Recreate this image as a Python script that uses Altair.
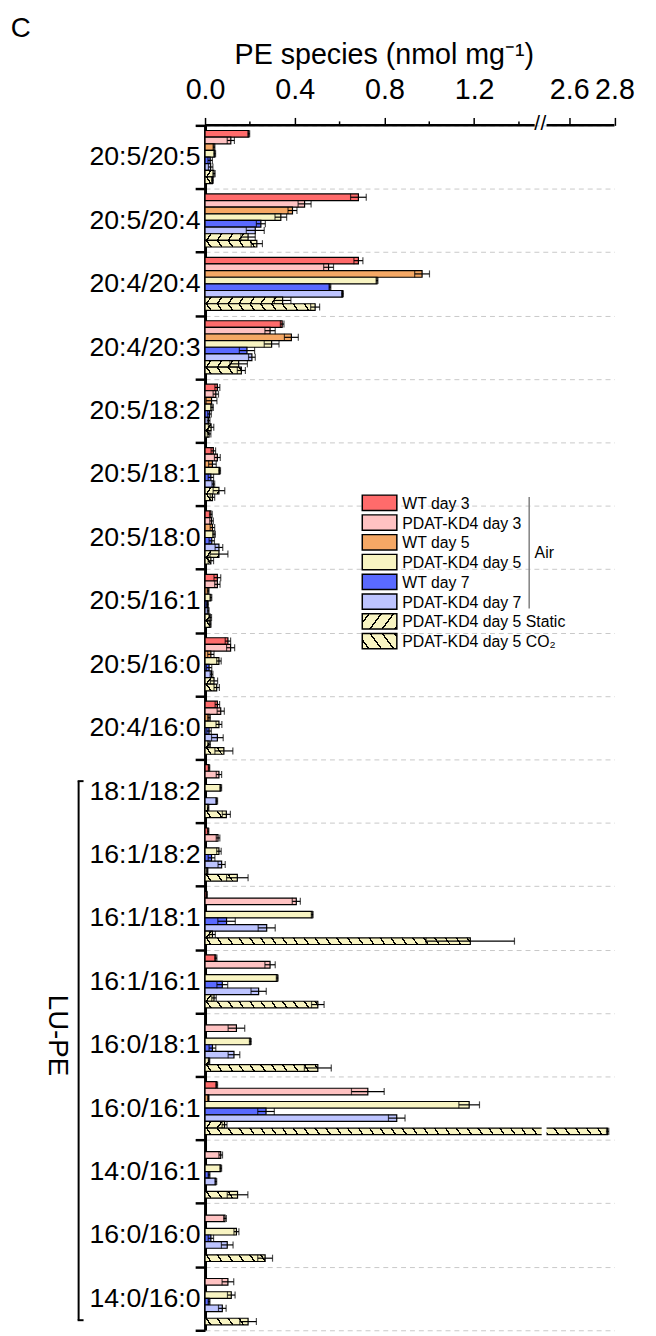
import altair as alt

# ---------------- data ----------------
cats = ["20:5/20:5", "20:5/20:4", "20:4/20:4", "20:4/20:3", "20:5/18:2", "20:5/18:1",
        "20:5/18:0", "20:5/16:1", "20:5/16:0", "20:4/16:0", "18:1/18:2", "16:1/18:2",
        "16:1/18:1", "16:1/16:1", "16:0/18:1", "16:0/16:1", "14:0/16:1", "16:0/16:0",
        "14:0/16:0"]

series = ["WT day 3", "PDAT-KD4 day 3", "WT day 5", "PDAT-KD4 day 5", "WT day 7",
          "PDAT-KD4 day 7", "PDAT-KD4 day 5 Static", "PDAT-KD4 day 5 CO\u2082"]

wt_d3 = [0.195, 0.684, 0.684, 0.344, 0.055, 0.037, 0.026, 0.055, 0.102, 0.055, 0.018, 0.014, 0.008, 0.048, 0.0, 0.052, 0.0, 0.0, 0.0]
wt_d3_err = [0.004, 0.035, 0.020, 0.008, 0.011, 0.010, 0.006, 0.015, 0.012, 0.010, 0.003, 0.003, 0.002, 0.005, 0.0, 0.004, 0.0, 0.0, 0.0]
pdat_d3 = [0.115, 0.444, 0.551, 0.290, 0.048, 0.055, 0.029, 0.055, 0.114, 0.070, 0.062, 0.058, 0.407, 0.290, 0.140, 0.726, 0.070, 0.089, 0.102]
pdat_d3_err = [0.016, 0.029, 0.022, 0.023, 0.012, 0.013, 0.008, 0.012, 0.018, 0.016, 0.012, 0.008, 0.018, 0.023, 0.037, 0.073, 0.008, 0.006, 0.026]
wt_d5 = [0.040, 0.390, 0.968, 0.385, 0.029, 0.033, 0.033, 0.014, 0.026, 0.018, 0.0, 0.0, 0.0, 0.0, 0.0, 0.015, 0.0, 0.0, 0.0]
wt_d5_err = [0.004, 0.020, 0.033, 0.031, 0.024, 0.017, 0.010, 0.004, 0.014, 0.006, 0.0, 0.0, 0.0, 0.0, 0.0, 0.003, 0.0, 0.0, 0.0]
pdat_d5 = [0.043, 0.338, 0.767, 0.297, 0.031, 0.065, 0.040, 0.026, 0.062, 0.062, 0.070, 0.062, 0.478, 0.322, 0.202, 1.178, 0.070, 0.140, 0.117]
pdat_d5_err = [0.004, 0.026, 0.004, 0.033, 0.006, 0.004, 0.006, 0.004, 0.010, 0.013, 0.004, 0.010, 0.004, 0.004, 0.004, 0.046, 0.004, 0.011, 0.017]
wt_d7 = [0.023, 0.249, 0.557, 0.187, 0.020, 0.026, 0.030, 0.011, 0.018, 0.018, 0.003, 0.029, 0.096, 0.077, 0.033, 0.272, 0.018, 0.026, 0.018]
wt_d7_err = [0.010, 0.020, 0.004, 0.034, 0.008, 0.012, 0.012, 0.004, 0.012, 0.010, 0.002, 0.015, 0.039, 0.024, 0.015, 0.037, 0.004, 0.012, 0.004]
pdat_d7 = [0.025, 0.224, 0.613, 0.209, 0.016, 0.037, 0.062, 0.014, 0.029, 0.055, 0.052, 0.074, 0.275, 0.239, 0.129, 0.855, 0.048, 0.099, 0.077]
pdat_d7_err = [0.010, 0.040, 0.004, 0.015, 0.006, 0.006, 0.017, 0.004, 0.006, 0.026, 0.004, 0.016, 0.038, 0.034, 0.026, 0.037, 0.004, 0.026, 0.017]
static = [0.040, 0.192, 0.346, 0.150, 0.027, 0.062, 0.062, 0.023, 0.040, 0.018, 0.014, 0.010, 0.033, 0.040, 0.018, 0.087, 0.0, 0.0, 0.0]
static_err = [0.005, 0.032, 0.037, 0.039, 0.012, 0.026, 0.040, 0.006, 0.016, 0.006, 0.003, 0.003, 0.013, 0.010, 0.003, 0.011, 0.0, 0.0, 0.0]
co2 = [0.033, 0.231, 0.491, 0.162, 0.018, 0.033, 0.026, 0.023, 0.052, 0.084, 0.095, 0.144, 1.183, 0.503, 0.503, 2.770, 0.145, 0.268, 0.192]
co2_err = [0.004, 0.025, 0.020, 0.018, 0.008, 0.010, 0.012, 0.004, 0.012, 0.040, 0.018, 0.048, 0.197, 0.028, 0.060, 0.005, 0.046, 0.033, 0.037]

values = [wt_d3, pdat_d3, wt_d5, pdat_d5, wt_d7, pdat_d7, static, co2]
errors = [wt_d3_err, pdat_d3_err, wt_d5_err, pdat_d5_err, wt_d7_err, pdat_d7_err, static_err, co2_err]

major_ticks = [0.0, 0.4, 0.8, 1.2, 2.6, 2.8]
minor_ticks = [0.2, 0.6, 1.0, 1.4]
axis_segments = [(0.0, 1.47), (2.5, 2.8)]
break_marks = [1.50, 2.35]      # two slanted strokes of the axis break
bar_gap = (2.13, 2.50)          # white break drawn through the 2.77 bar

# ---------------- styles ----------------
colors = ["#FF6B6B", "#FFC2C2", "#F5A865", "#F8F4C2", "#5A6AFF", "#BDC4FF", "#F8F4C2", "#F8F4C2"]
hatches = [None, None, None, None, None, None, "/", "\\"]
FONT = "Liberation Sans"

X_DOMAIN = [0, 1.48, 2.49, 2.8]
X_RANGE = [0, 336, 343.5, 414.5]
W = X_RANGE[-1]
N = len(cats)
TOP = 110.5
STEP = 64.2
H = STEP * N
OFF_PAD = 0.78
BAR_H = STEP / (len(series) + 2 * OFF_PAD)


def xpix(v):
    for k in range(len(X_DOMAIN) - 1):
        d0, d1 = X_DOMAIN[k], X_DOMAIN[k + 1]
        if v <= d1 or k == len(X_DOMAIN) - 2:
            r0, r1 = X_RANGE[k], X_RANGE[k + 1]
            return r0 + (v - d0) / (d1 - d0) * (r1 - r0)


def hatch_grad(wpx, hpx, kind, bg, period=11.0, line=1.7, slant=0.7):
    wpx = max(wpx, 0.5)
    d = slant * hpx
    r = d / wpx
    a = (1 + r) / (1 + r * r)
    b = r * a
    if kind == "/":
        g = {"gradient": "linear", "x1": 0, "y1": 0, "x2": a, "y2": b}
    else:
        g = {"gradient": "linear", "x1": 0, "y1": 1, "x2": a, "y2": 1 - b}
    total = wpx + d
    stops = [{"offset": 0, "color": bg}]
    pos = period * 0.55
    while pos - line / 2 < total:
        lo = min(max((pos - line / 2) / total, 0), 1)
        hi = min((pos + line / 2) / total, 1)
        stops += [{"offset": lo, "color": bg}, {"offset": lo, "color": "black"},
                  {"offset": hi, "color": "black"}, {"offset": hi, "color": bg}]
        pos += period
    stops.append({"offset": 1, "color": bg})
    g["stops"] = stops
    return g


bars, err_rows, cap_rows, gap_rows = [], [], [], []
for i, c in enumerate(cats):
    for j, s in enumerate(series):
        v = values[j][i]
        e = errors[j][i]
        if v <= 0:
            continue
        f = colors[j] if hatches[j] is None else hatch_grad(xpix(v), BAR_H, hatches[j], colors[j])
        bars.append({"cat": c, "s": s, "v": v, "f": f})
        if e > 0:
            lo, hi = max(v - e, 0), v + e
            err_rows.append({"cat": c, "s": s, "lo": lo, "hi": hi})
            cap_rows.append({"cat": c, "s": s, "xc": lo})
            cap_rows.append({"cat": c, "s": s, "xc": hi})
        if v > bar_gap[1]:
            gap_rows.append({"cat": c, "s": s, "a": bar_gap[0], "b": bar_gap[1]})

xscale = alt.Scale(domain=X_DOMAIN, range=X_RANGE, nice=False, zero=False)
yscale = alt.Scale(domain=cats, paddingInner=0, paddingOuter=0)
oscale = alt.Scale(domain=series, paddingInner=0, paddingOuter=OFF_PAD)

xaxis = alt.Axis(orient="top", values=major_ticks, format=".1f", domain=False, grid=False,
                 tickSize=8, tickWidth=1.5, tickColor="black", labelFontSize=29, labelFont=FONT,
                 labelColor="black", labelPadding=13, labelOverlap=False, labelFlush=False,
                 title="PE species (nmol mg\u207b\u00b9)", titleFont=FONT, titleFontSize=29,
                 titleFontWeight="normal", titleColor="black", titleX=181, titleY=-63,
                 titleAlign="center", titleBaseline="alphabetic", titleAngle=0)
yaxis = alt.Axis(title=None, labelFontSize=27, labelFont=FONT, labelColor="black",
                 tickBand="extent", tickSize=10, tickWidth=2.5, tickColor="black",
                 domainColor="black", domainWidth=3, grid=True, gridDash=[5, 4],
                 gridColor="#c8c8c8", gridWidth=1, labelPadding=-5, labelLimit=400)


def X(field):
    return alt.X(field, scale=xscale, axis=xaxis, stack=None)


def Y():
    return alt.Y("cat:N", scale=yscale, sort=cats, axis=yaxis)


def YO():
    return alt.YOffset("s:N", scale=oscale, sort=series)


bar = alt.Chart(alt.Data(values=bars)).mark_bar(stroke="black", strokeWidth=1.2).encode(
    x=X("v:Q"), y=Y(), yOffset=YO(), fill=alt.Fill("f:N", scale=None))

gap = alt.Chart(alt.Data(values=gap_rows)).mark_rule(color="white", strokeWidth=BAR_H + 3, strokeCap="butt").encode(
    x=X("a:Q"), x2="b:Q", y=Y(), yOffset=YO())

err = alt.Chart(alt.Data(values=err_rows)).mark_rule(color="black", strokeWidth=1.2).encode(
    x=X("lo:Q"), x2="hi:Q", y=Y(), yOffset=YO())

caps = alt.Chart(alt.Data(values=cap_rows)).mark_tick(color="black", thickness=1.2, size=BAR_H + 0.4,
                                                      orient="vertical").encode(
    x=X("xc:Q"), y=Y(), yOffset=YO())

axis_line = alt.Chart(alt.Data(values=[{"a": a, "b": b} for a, b in axis_segments])).mark_rule(
    color="black", strokeWidth=2.5).encode(x=X("a:Q"), x2="b:Q", y=alt.value(0))

minor = alt.Chart(alt.Data(values=[{"m": m} for m in minor_ticks])).mark_rule(
    color="black", strokeWidth=1.5).encode(x=X("m:Q"), y=alt.value(-4), y2=alt.value(0))

brk = alt.Chart(alt.Data(values=[{"m": m, "t": "/"} for m in break_marks])).mark_text(
    font=FONT, fontSize=21, baseline="middle", align="center", color="black").encode(
    x=X("m:Q"), y=alt.value(-1), text="t:N")

layers = [bar, gap, err, caps, axis_line, minor, brk]

# ---------------- manual legend ----------------
LEG_X0, LEG_X1 = 159.2, 194.2
LEG_Y0, LEG_DY, SW_H = 382.2, 20.0, 15.6
for k, s in enumerate(series):
    yc = LEG_Y0 + LEG_DY * k
    f = colors[k] if hatches[k] is None else hatch_grad(LEG_X1 - LEG_X0, SW_H, hatches[k], colors[k],
                                                        period=12.5, line=1.8, slant=0.75)
    layers.append(alt.Chart(alt.Data(values=[{"s": s}])).mark_rect(
        fill=f, stroke="black", strokeWidth=1.5).encode(
        x=alt.value(LEG_X0), x2=alt.value(LEG_X1), y=alt.value(yc - SW_H / 2), y2=alt.value(yc + SW_H / 2)))
    layers.append(alt.Chart(alt.Data(values=[{"s": s}])).mark_text(
        font=FONT, fontSize=16, align="left", baseline="middle", color="black").encode(
        x=alt.value(LEG_X1 + 5.5), y=alt.value(yc + 1), text="s:N"))

air_x = 328.2
layers.append(alt.Chart(alt.Data(values=[{"t": "Air"}])).mark_rule(color="#808080", strokeWidth=1.5).encode(
    x=alt.value(air_x), y=alt.value(LEG_Y0 - 6), y2=alt.value(LEG_Y0 + 5 * LEG_DY + 7)))
layers.append(alt.Chart(alt.Data(values=[{"t": "Air"}])).mark_text(
    font=FONT, fontSize=16, align="left", baseline="middle", color="black").encode(
    x=alt.value(air_x + 5.5), y=alt.value(LEG_Y0 + 2.5 * LEG_DY + 1), text="t:N"))

# ---------------- panel letter, LU-PE bracket ----------------
layers.append(alt.Chart(alt.Data(values=[{"t": "C"}])).mark_text(
    font=FONT, fontSize=28, align="center", baseline="alphabetic", color="black").encode(
    x=alt.value(-186.5), y=alt.value(-89), text="t:N"))

br_x = -128
br_top = 10 * STEP + 22
br_bot = 19 * STEP - 10
layers.append(alt.Chart(alt.Data(values=[{"t": "LU-PE"}])).mark_text(
    font=FONT, fontSize=28, align="center", baseline="middle", angle=90, color="black").encode(
    x=alt.value(br_x - 22), y=alt.value(1040 - 118.5), text="t:N"))
layers.append(alt.Chart(alt.Data(values=[{"t": "b"}])).mark_rule(color="black", strokeWidth=2).encode(
    x=alt.value(br_x), y=alt.value(br_top), y2=alt.value(br_bot)))
layers.append(alt.Chart(alt.Data(values=[{"t": "b"}])).mark_rule(color="black", strokeWidth=2).encode(
    x=alt.value(br_x - 1), x2=alt.value(br_x + 5), y=alt.value(br_top)))
layers.append(alt.Chart(alt.Data(values=[{"t": "b"}])).mark_rule(color="black", strokeWidth=2).encode(
    x=alt.value(br_x - 1), x2=alt.value(br_x + 5), y=alt.value(br_bot)))

chart = alt.layer(*layers).properties(
    width=W, height=H,
    autosize=alt.AutoSizeParams(type="none"),
    padding={"left": 199.5, "top": TOP, "right": 34, "bottom": 0},
).configure(font=FONT).configure_view(stroke=None)

chart.save("out.html", embed_options={"renderer": "svg", "actions": False})
